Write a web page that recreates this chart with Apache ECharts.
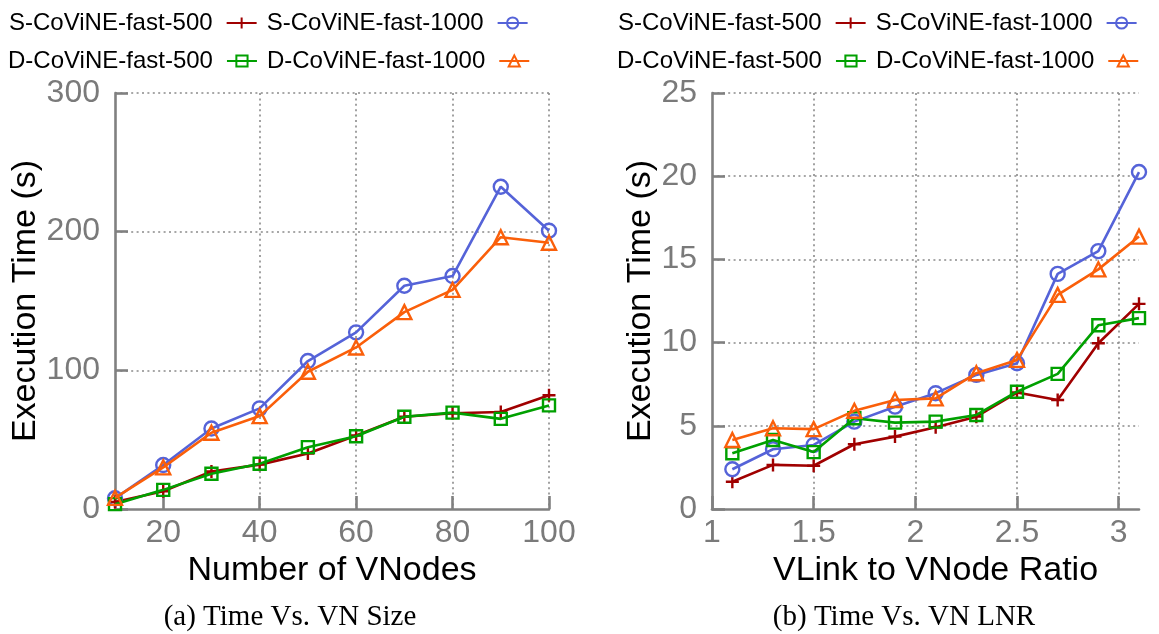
<!DOCTYPE html>
<html>
<head>
<meta charset="utf-8">
<script src="https://cdn.jsdelivr.net/npm/echarts@6/dist/echarts.min.js"></script>
<style>
html,body{margin:0;padding:0;background:#fff;}
#chart{width:1159px;height:634px;}
</style>
</head>
<body>
<div id="chart"></div>
<script>
// ---- data ----
const seriesNames = ['S-CoViNE-fast-500', 'S-CoViNE-fast-1000', 'D-CoViNE-fast-500', 'D-CoViNE-fast-1000'];

const vnodes = [10, 20, 30, 40, 50, 60, 70, 80, 90, 100];
const sizeS500  = [5, 12.8, 27, 32, 40, 53, 66.5, 69, 70, 82];
const sizeS1000 = [7.7, 31.7, 58, 72.6, 106.7, 127.4, 161, 168, 232.4, 200.7];
const sizeD500  = [3.5, 13.8, 25.4, 32.6, 44.6, 52.5, 66.5, 69.5, 65, 74.7];
const sizeD1000 = [8, 30, 55, 67, 99, 116.5, 142, 158, 196, 192];

const ratios = [1.1, 1.3, 1.5, 1.7, 1.9, 2.1, 2.3, 2.5, 2.7, 2.9, 3.1];
const lnrS500  = [1.64, 2.65, 2.6, 3.89, 4.35, 4.91, 5.55, 7.0, 6.55, 9.96, 12.33];
const lnrS1000 = [2.39, 3.59, 3.85, 5.25, 6.15, 6.96, 8.06, 8.76, 14.13, 15.5, 20.25];
const lnrD500  = [3.35, 4.15, 3.42, 5.45, 5.19, 5.25, 5.65, 7.05, 8.12, 11.04, 11.47];
const lnrD1000 = [4.15, 4.85, 4.8, 5.9, 6.55, 6.65, 8.16, 8.96, 12.87, 14.4, 16.37];

const sizeTicks = [20, 40, 60, 80, 100];
const ratioTicks = [1, 1.5, 2, 2.5, 3];

const captionA = '(a) Time Vs. VN Size';
const captionB = '(b) Time Vs. VN LNR';
const xNameA = 'Number of VNodes';
const xNameB = 'VLink to VNode Ratio';
const yName = 'Execution Time (s)';

// ---- styling ----
const COLORS = ['#A00000', '#5563D8', '#00A000', '#FA5F0A'];
const PLUS = 'path://M0,6 L12,6 M6,0 L6,12';
const SYMBOLS = [PLUS, 'circle', 'rect', 'triangle'];
const SIZES = [13, 14, 12, 14];
const FONT = 'Liberation Sans';
const GRAY = '#7a7a7a';

function zip(xs, ys) { return xs.map((x, i) => [x, ys[i]]); }

function mkSeries(idx, gridIdx, xs, ys) {
  const c = COLORS[idx];
  return {
    name: seriesNames[idx],
    type: 'line',
    xAxisIndex: gridIdx,
    yAxisIndex: gridIdx,
    data: zip(xs, ys),
    symbol: SYMBOLS[idx],
    symbolSize: SIZES[idx],
    showAllSymbol: true,
    color: c,
    lineStyle: { color: c, width: 2.6 },
    itemStyle: { color: idx === 0 ? c : 'rgba(255,255,255,0)', borderColor: c, borderWidth: 2.4 },
    emphasis: { disabled: true },
    z: 2 + idx
  };
}

const axisLineStyle = { color: '#808080', width: 2.6 };
const splitStyle = { show: true, lineStyle: { color: '#8a8a8a', width: 1.6, type: [2, 3.4] } };

function yAxis(gridIdx, max, interval, nameGap) {
  return {
    type: 'value', gridIndex: gridIdx, min: 0, max: max, interval: interval,
    name: yName, nameLocation: 'middle', nameGap: nameGap,
    nameTextStyle: { fontFamily: FONT, fontSize: 34, color: '#000' },
    axisLine: { show: true, lineStyle: axisLineStyle },
    axisTick: { show: true, inside: true, length: 13, lineStyle: axisLineStyle },
    axisLabel: { fontFamily: FONT, fontSize: 32, color: GRAY, margin: 15 },
    splitLine: Object.assign({ showMinLine: false }, splitStyle)
  };
}

function xAxis(gridIdx, min, max, interval, ticks, name, namePad) {
  return {
    type: 'value', gridIndex: gridIdx, min: min, max: max, interval: interval,
    name: name, nameLocation: 'middle', nameGap: 41,
    nameTextStyle: { fontFamily: FONT, fontSize: 34, color: '#000', padding: namePad },
    axisLine: { show: true, onZero: false, lineStyle: axisLineStyle },
    axisTick: { show: true, inside: true, length: 13, lineStyle: axisLineStyle, customValues: ticks },
    axisLabel: { fontFamily: FONT, fontSize: 32, color: GRAY, margin: 8, customValues: ticks },
    splitLine: Object.assign({ showMinLine: false }, splitStyle)
  };
}

function legend(left, top, names) {
  return {
    left: left, top: top, width: 560, orient: 'horizontal', align: 'right',
    data: names, itemWidth: 30, itemHeight: 14, itemGap: 9,
    selectedMode: false, padding: 0,
    textStyle: { fontFamily: FONT, fontSize: 24, color: '#000', lineHeight: 24, padding: [0, 9, 0, 0] }
  };
}

const chart = echarts.init(document.getElementById('chart'), null, { renderer: 'canvas' });
chart.setOption({
  animation: false,
  backgroundColor: '#fff',
  grid: [
    { left: 115, top: 93, width: 434, height: 416 },
    { left: 712, top: 93, width: 427, height: 416 }
  ],
  xAxis: [
    xAxis(0, 10, 100, 10, sizeTicks, xNameA, [0, 0, 0, 0]),
    xAxis(1, 1, 3.1, 0.5, ratioTicks, xNameB, [0, 0, 0, 20])
  ],
  yAxis: [
    yAxis(0, 300, 100, 70),
    yAxis(1, 25, 5, 50)
  ],
  legend: [
    legend(9, 11, [seriesNames[0], seriesNames[1]]),
    legend(8, 49, [seriesNames[2], seriesNames[3]]),
    legend(618, 11, [seriesNames[0], seriesNames[1]]),
    legend(617, 49, [seriesNames[2], seriesNames[3]])
  ],
  graphic: [
    { type: 'text', style: { text: captionA, x: 290, y: 617, align: 'center', verticalAlign: 'middle', font: '29px "Liberation Serif"', fill: '#000' } },
    { type: 'text', style: { text: captionB, x: 904, y: 617, align: 'center', verticalAlign: 'middle', font: '29px "Liberation Serif"', fill: '#000' } }
  ],
  series: [
    mkSeries(0, 0, vnodes, sizeS500),
    mkSeries(1, 0, vnodes, sizeS1000),
    mkSeries(2, 0, vnodes, sizeD500),
    mkSeries(3, 0, vnodes, sizeD1000),
    mkSeries(0, 1, ratios, lnrS500),
    mkSeries(1, 1, ratios, lnrS1000),
    mkSeries(2, 1, ratios, lnrD500),
    mkSeries(3, 1, ratios, lnrD1000)
  ]
});
</script>
</body>
</html>
